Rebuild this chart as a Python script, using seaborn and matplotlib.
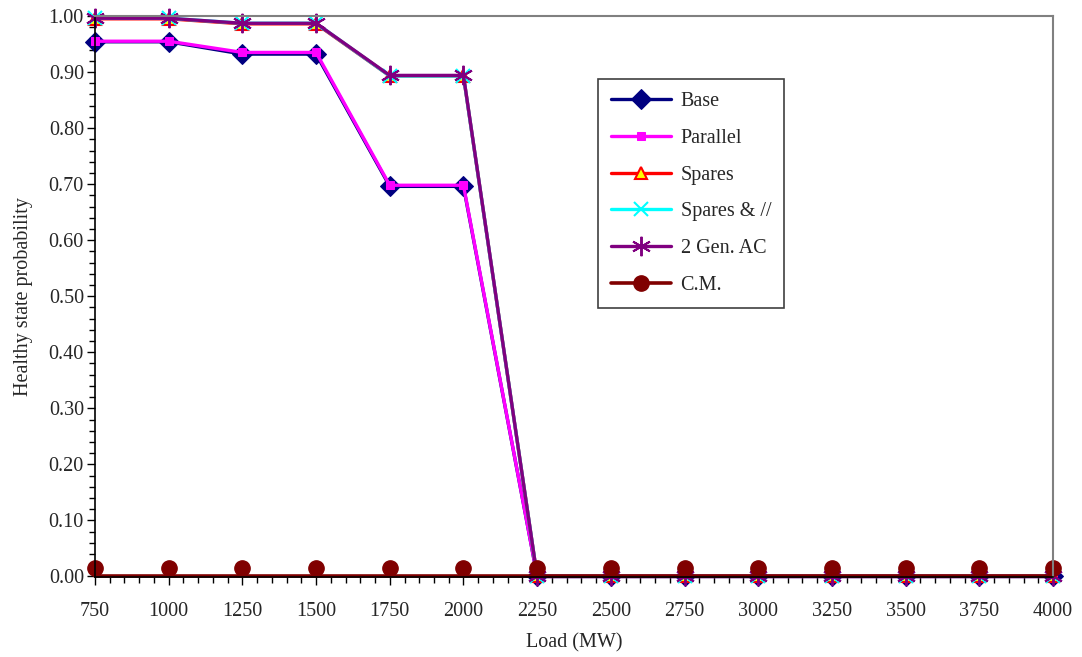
import numpy as np
import pandas as pd
import matplotlib.pyplot as plt
import matplotlib.transforms as mtransforms
from matplotlib.ticker import MultipleLocator
import seaborn as sns

load = [750, 1000, 1250, 1500, 1750, 2000, 2250, 2500, 2750, 3000, 3250, 3500, 3750, 4000]
base = [0.954, 0.954, 0.932, 0.932, 0.696, 0.696, 0, 0, 0, 0, 0, 0, 0, 0]
parallel = [0.955, 0.955, 0.935, 0.935, 0.698, 0.698, 0, 0, 0, 0, 0, 0, 0, 0]
spares = [0.995, 0.995, 0.986, 0.986, 0.893, 0.893, 0, 0, 0, 0, 0, 0, 0, 0]
spares_par = [0.996, 0.996, 0.987, 0.987, 0.893, 0.893, 0, 0, 0, 0, 0, 0, 0, 0]
gen2_ac = [0.996, 0.996, 0.987, 0.987, 0.894, 0.894, 0, 0, 0, 0, 0, 0, 0, 0]
cm = [0, 0, 0, 0, 0, 0, 0, 0, 0, 0, 0, 0, 0, 0]

sns.set_style("ticks")
plt.rcParams['font.family'] = ['Liberation Serif', 'DejaVu Serif']

fig = plt.figure(figsize=(10.82, 6.57), dpi=100)
ax = fig.add_axes([95 / 1082, 1 - 577 / 657, 958 / 1082, 561 / 657])

series = [
    ('Base', base, dict(color='#000080', marker='D', markersize=10, lw=2.4,
                        markeredgecolor='#000080')),
    ('Parallel', parallel, dict(color='#ff00ff', marker='s', markersize=5.5, lw=2.4,
                                markeredgecolor='#ff00ff')),
    ('Spares', spares, dict(color='#ff0000', marker='^', markersize=8, lw=2.4,
                            markerfacecolor='#ffff00', markeredgecolor='#ff0000', markeredgewidth=1.5)),
    ('Spares & //', spares_par, dict(color='#00ffff', marker='x', markersize=10, lw=2.4,
                                     markeredgecolor='#00ffff', markeredgewidth=1.5)),
    ('2 Gen. AC', gen2_ac, dict(color='#800080', marker=(6, 2, 0), markersize=14, lw=2.4,
                                markeredgecolor='#800080', markeredgewidth=1.4)),
]

for name, vals, kw in series:
    df = pd.DataFrame({'load': load, 'p': vals})
    sns.lineplot(data=df, x='load', y='p', ax=ax, label=name, clip_on=False, **kw)

# C.M. line sits on zero, its dots drawn a little above
df_cm = pd.DataFrame({'load': load, 'p': cm})
sns.lineplot(data=df_cm, x='load', y='p', ax=ax, color='#800000', lw=2.6, clip_on=False)
shift = ax.transData + mtransforms.ScaledTranslation(0, 6 / 72, fig.dpi_scale_trans)
ax.plot(load, cm, ls='none', marker='o', markersize=11, color='#800000', transform=shift, clip_on=False)
ax.plot([], [], color='#800000', lw=2.6, marker='o', markersize=11, label='C.M.')

ax.set_xlim(750, 4000)
ax.set_ylim(-0.001, 1.0)
ax.xaxis.set_major_locator(MultipleLocator(250))
ax.xaxis.set_minor_locator(MultipleLocator(50))
ax.yaxis.set_major_locator(MultipleLocator(0.1))
ax.yaxis.set_minor_locator(MultipleLocator(0.02))
ax.yaxis.set_major_formatter(plt.FuncFormatter(lambda v, p: f'{v:.2f}'))
ax.tick_params(axis='both', which='major', length=6, width=1, labelsize=14.5, color='black')
ax.tick_params(axis='both', which='minor', length=4, width=1, color='black')
ax.tick_params(axis='x', which='major', pad=12)
ax.tick_params(axis='y', which='major', pad=2)

for side in ['top', 'right']:
    ax.spines[side].set_visible(True)
    ax.spines[side].set_color('#808080')
    ax.spines[side].set_linewidth(1.5)
for side in ['left', 'bottom']:
    ax.spines[side].set_color('black')
    ax.spines[side].set_linewidth(1.2)

ax.set_xlabel('Load (MW)', fontsize=14.5, labelpad=9)
ax.set_ylabel('Healthy state probability', fontsize=14.5, labelpad=11)

leg = ax.legend(loc='upper left', bbox_to_anchor=(0.525, 0.888), fontsize=14.5,
                frameon=True, fancybox=False, edgecolor='#404040', framealpha=1,
                borderaxespad=0, borderpad=0.65, labelspacing=0.88,
                handlelength=3.0, handletextpad=0.45)
leg.get_frame().set_linewidth(1.2)

fig.savefig('out.png', dpi=100)
